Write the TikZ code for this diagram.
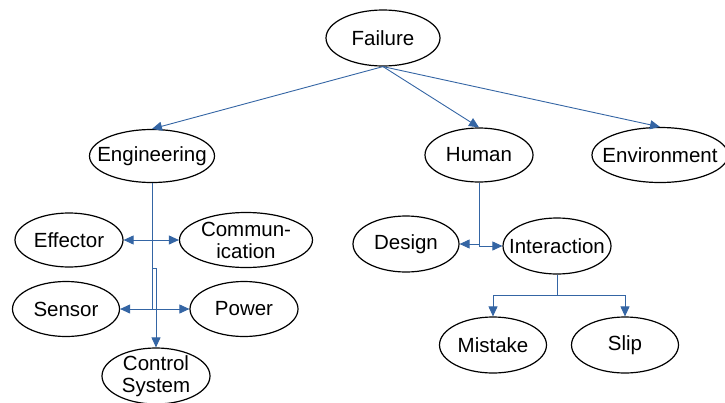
\documentclass[tikz,border=0pt]{standalone}
\usepackage{fontspec}
\setmainfont{Liberation Sans}
\usetikzlibrary{arrows.meta,shapes.geometric}
\definecolor{Link}{HTML}{3465A4}

\begin{document}
\begin{tikzpicture}[x=1pt,y=-1pt,
      item/.style={ellipse,draw,line width=1.2pt,inner xsep=-20pt,inner ysep=-8pt,
        minimum width=108pt,minimum height=55pt,align=center,
        font=\fontsize{20.5}{22}\selectfont},
      link/.style={draw=Link,line width=0.9pt,-{Triangle[length=10pt,width=9pt]}}]
      \clip (0,0) rectangle (725,402);
      \node[item,minimum width=114pt,minimum height=56pt] (fail) at (383,38) {Failure};
      \node[item,minimum width=125pt,minimum height=53pt] (eng) at (152,156) {Engineering};
      \node[item,minimum height=54pt] (hum) at (479,155) {Human};
      \node[item,minimum width=136pt] (env) at (660,155) {Environment};
      \node[item,minimum height=54pt] (eff) at (69,240) {Effector};
      \node[item,minimum width=133pt] (com) at (246,240) {Commun-\\ication};
      \node[item,minimum width=107pt] (sen) at (66,309) {Sensor};
      \node[item] (pow) at (244,309) {Power};
      \node[item,minimum height=56pt] (ctl) at (156,376) {Control\\System};
      \node[item,minimum width=106pt,minimum height=56pt] (des) at (406,244) {Design};
      \node[item,minimum height=56pt] (int) at (557,246) {Interaction};
      \node[item,minimum width=107pt,minimum height=56pt] (mis) at (493,345) {Mistake};
      \node[item,minimum width=107pt,minimum height=56pt] (slip) at (625,345) {Slip};
      \draw[link] (fail.south) -- (eng.north);
      \draw[link] (fail.south) -- (hum.north);
      \draw[link] (fail.south) -- (env.north);
      \draw[link] (eng.south) |- (eff.east);
      \draw[link] (eng.south) |- (com.west);
      \draw[link] (eng.south) |- (sen.east);
      \draw[link] (eng.south) |- (pow.west);
      \draw[link] (eng.south) -- ++(0,85) -| (ctl.north);
      \draw[link] (hum.south) |- (des.east);
      \draw[link] (hum.south) |- (int.west);
      \draw[link] (int.south) -- ++(0,21) -| (mis.north);
      \draw[link] (int.south) -- ++(0,21) -| (slip.north);
    \end{tikzpicture}
\end{document}
